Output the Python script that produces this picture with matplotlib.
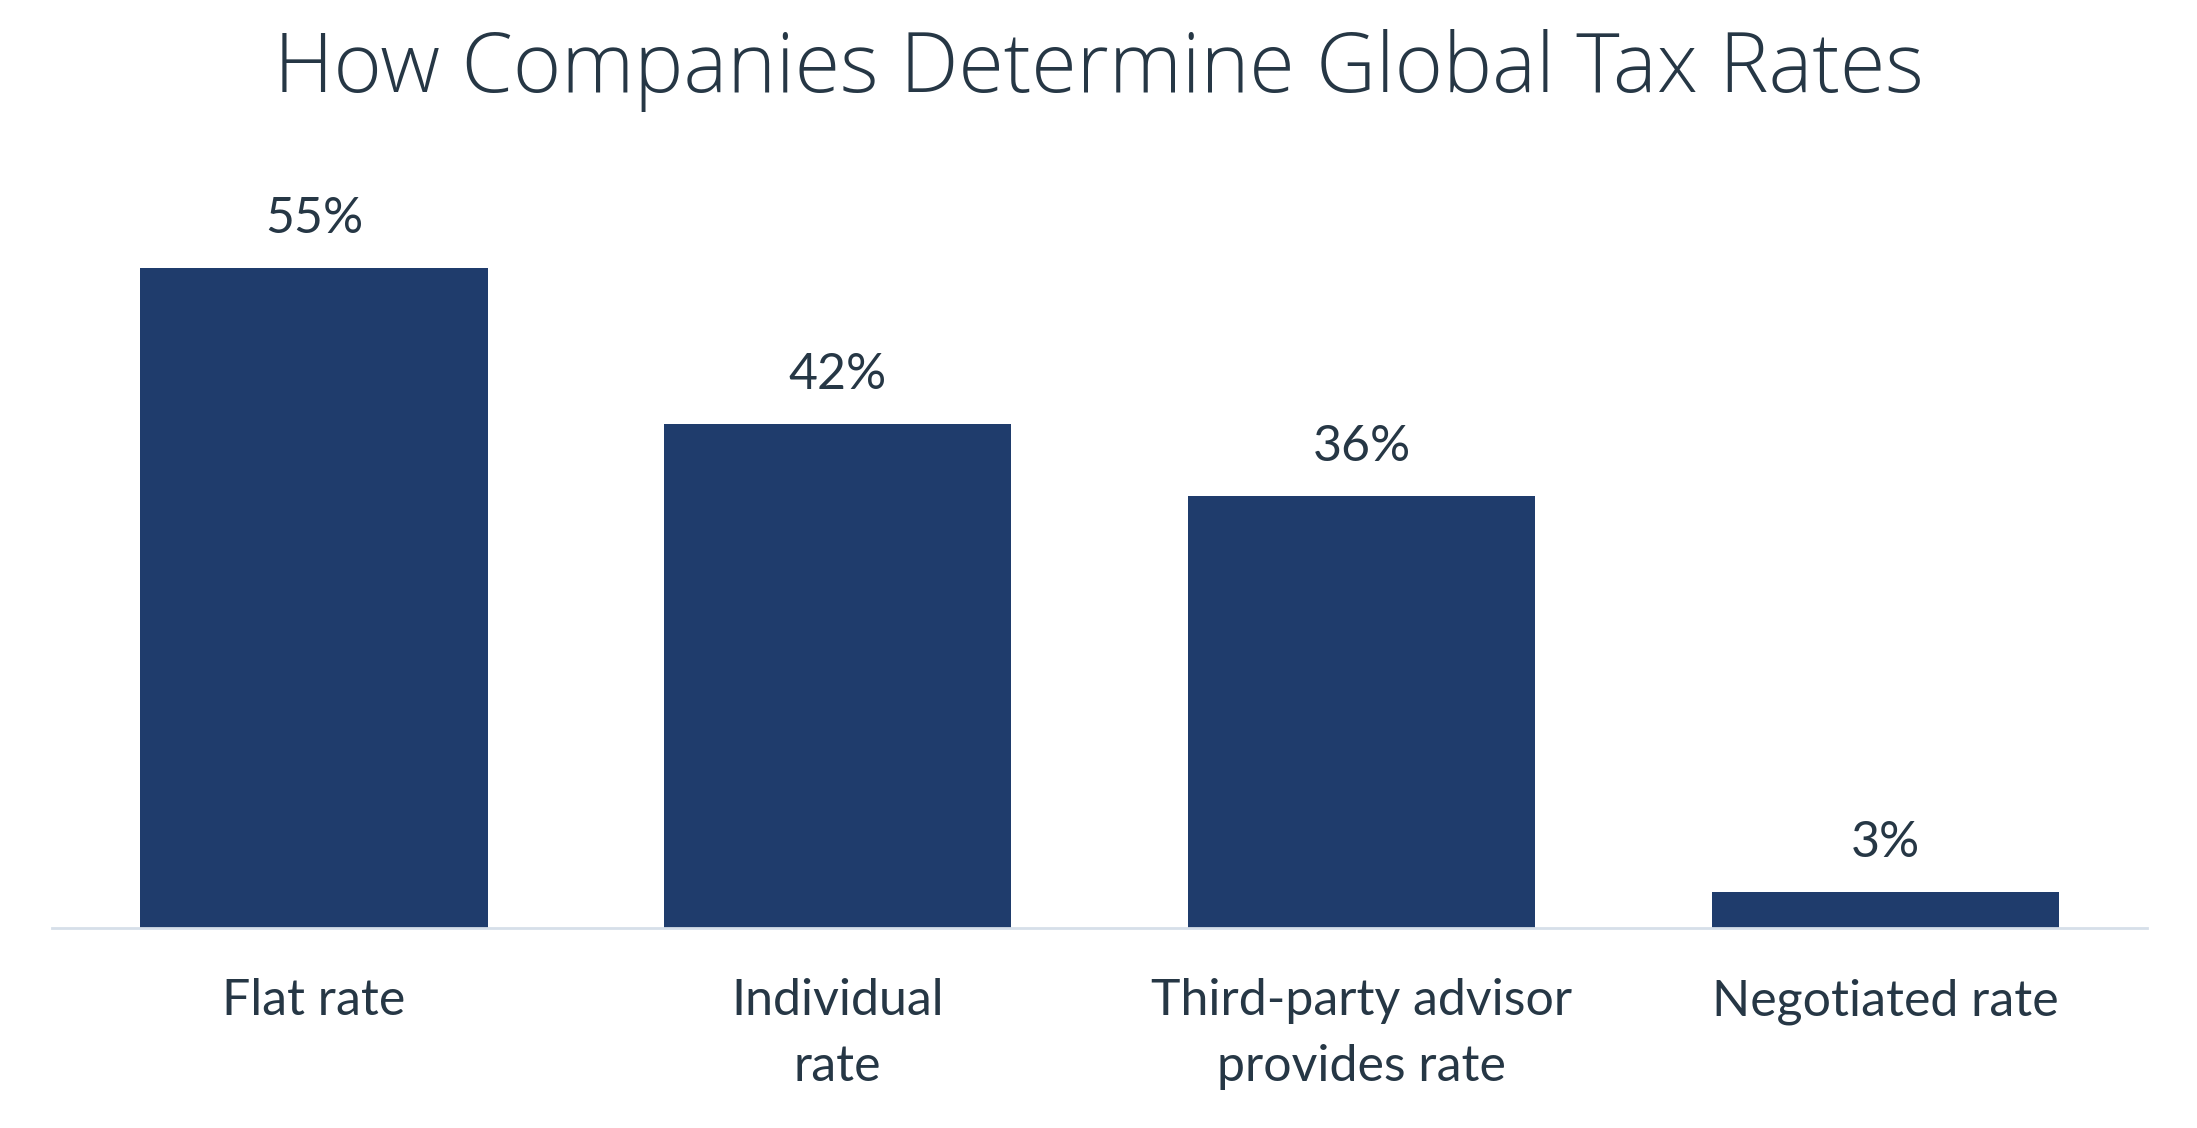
import matplotlib.pyplot as plt

categories = ["Flat rate", "Individual\nrate", "Third-party advisor\nprovides rate", "Negotiated rate"]
values = [55, 42, 36, 3]

bar_color = "#1f3c6c"
text_color = "#263745"

plt.rcParams['font.family'] = ['Lato', 'DejaVu Sans']

fig = plt.figure(figsize=(21.97, 11.28), dpi=100)
ax = fig.add_axes([0.0237, 0.1773, 0.9536, 0.6897])

x = range(len(values))
bars = ax.bar(x, values, width=0.663, color=bar_color, zorder=2)

for b, v in zip(bars, values):
    ax.annotate(f"{v}%", (b.get_x() + b.get_width() / 2, v),
                xytext=(0, 25), textcoords="offset points",
                ha="center", va="baseline", fontsize=36, color=text_color)

ax.set_xlim(-0.5, 3.5)
ax.set_ylim(0, 64.8)
ax.set_xticks(list(x))
ax.set_xticklabels(categories, fontsize=36, color=text_color, linespacing=1.55)
ax.tick_params(axis="x", length=0, pad=36)
ax.set_yticks([])
for s in ["top", "right", "left"]:
    ax.spines[s].set_visible(False)
ax.spines["bottom"].set_color("#d6dfe9")
ax.spines["bottom"].set_linewidth(2)

fig.text(0.5, 1 - 92 / 1128, "How Companies Determine Global Tax Rates",
         ha="center", va="baseline", fontsize=59.5, color=text_color,
         family=["Open Sans", "DejaVu Sans"], fontweight="light")

fig.savefig("out.png", dpi=100, facecolor="white")
